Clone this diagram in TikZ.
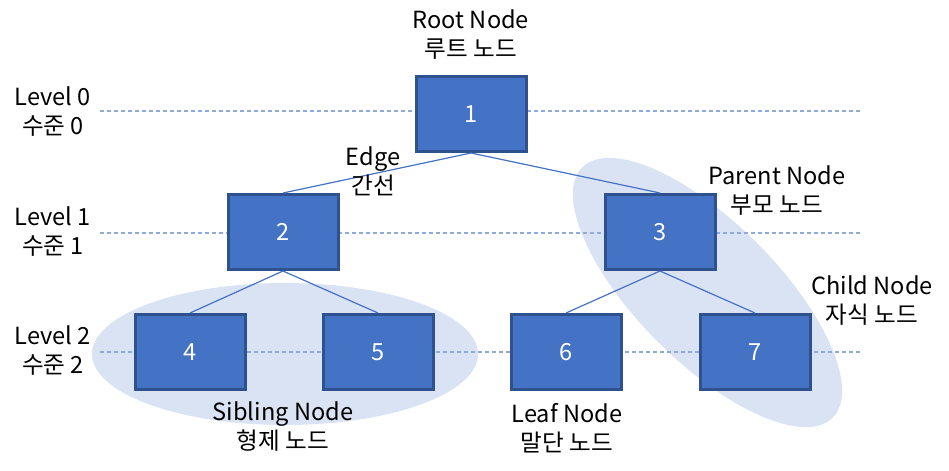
\documentclass[tikz,border=0pt]{standalone}
\usepackage{fontspec}
\setmainfont{Noto Sans CJK KR}
\definecolor{boxfill}{HTML}{4472C4}
\definecolor{boxline}{HTML}{2F528F}
\definecolor{groupfill}{HTML}{DAE3F3}
\definecolor{guideline}{HTML}{8FAADC}
\begin{document}
\begin{tikzpicture}[x=0.5pt, y=-0.5pt,
  treenode/.style={rectangle, draw=boxline, fill=boxfill, line width=1.5pt, minimum width=55pt, minimum height=37.5pt, text=white, font=\fontsize{11.8}{14}\selectfont},
  note/.style={align=center, font=\fontsize{11.8}{14.5}\selectfont},
  treeline/.style={draw=boxfill, line width=0.6pt},
  levelline/.style={draw=guideline, line width=0.6pt, dash pattern=on 2pt off 1.5pt}]
  \useasboundingbox (0,0) rectangle (949,471);
  % Groups
  \fill[groupfill] (285,354) ellipse [x radius=96.5pt, y radius=35.5pt];
  \fill[groupfill, rotate around={-45:(707.5,292.5)}] (707.5,292.5) ellipse [x radius=88.5pt, y radius=35pt];
  % Levels
  \coordinate (g0-a) at (100,111);
  \coordinate (g0-b) at (862,111);
  \coordinate (g1-a) at (100,233);
  \coordinate (g1-b) at (862,233);
  \coordinate (g2-a) at (100,352);
  \coordinate (g2-b) at (862,352);
  \draw[levelline] (g0-a) -- (g0-b);
  \draw[levelline] (g1-a) -- (g1-b);
  \draw[levelline] (g2-a) -- (g2-b);
  % Nodes
  \node (n-1) [treenode] at (471,114) {1};
  \node (n-2) [treenode] at (283,232) {2};
  \node (n-3) [treenode] at (660,232) {3};
  \node (n-4) [treenode] at (190,352) {4};
  \node (n-5) [treenode] at (378,352) {5};
  \node (n-6) [treenode] at (566,352) {6};
  \node (n-7) [treenode] at (755,352) {7};
  % Edges
  \draw[treeline] (n-1.south) -- (n-2.north);
  \draw[treeline] (n-1.south) -- (n-3.north);
  \draw[treeline] (n-2.south) -- (n-4.north);
  \draw[treeline] (n-2.south) -- (n-5.north);
  \draw[treeline] (n-3.south) -- (n-6.north);
  \draw[treeline] (n-3.south) -- (n-7.north);
  % Labels
  \node (root) [note] at (471,35) {Root Node\\루트 노드};
  \node (lv-0) [note] at (53,112) {Level 0\\수준 0};
  \node (lv-1) [note] at (53,232) {Level 1\\수준 1};
  \node (lv-2) [note] at (53,351) {Level 2\\수준 2};
  \node (edge-txt) [note] at (373,171) {Edge\\간선};
  \node (parent) [note] at (777,191) {Parent Node\\부모 노드};
  \node (child) [note] at (872,301) {Child Node\\자식 노드};
  \node (sibling) [note] at (283,427) {Sibling Node\\형제 노드};
  \node (leaf) [note] at (567,428) {Leaf Node\\말단 노드};
\end{tikzpicture}
\end{document}
